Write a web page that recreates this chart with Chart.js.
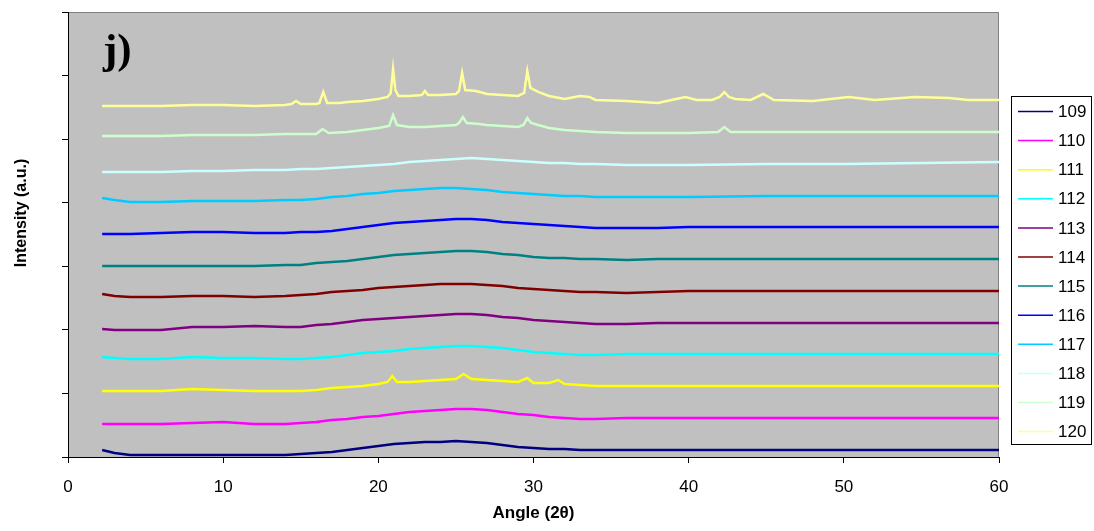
<!DOCTYPE html>
<html>
<head>
<meta charset="utf-8">
<script src="https://cdn.jsdelivr.net/npm/chart.js@4.4.1/dist/chart.umd.min.js"></script>
<style>
  html, body { margin: 0; padding: 0; background: #fff; }
  #wrap { width: 1094px; height: 531px; position: relative; }
</style>
</head>
<body>
<div id="wrap"><canvas id="xrd"></canvas></div>
<script>
// ----------------------
// DATA (intensity in a.u., each pattern already offset)
// ----------------------
const sampleNames = ['109','110','111','112','113','114','115','116','117','118','119','120'];
const sampleColors = ['#000080','#FF00FF','#FFFF00','#00FFFF','#800080','#800000','#008080','#0000FF','#00CCFF','#CCFFFF','#CCFFCC','#FFFF99'];

const xTicks = [0, 10, 20, 30, 40, 50, 60];

const angleGrid = [2.2,3,4,6,8,10,12,14,15,16,17,18,19,20,21,22,23,24,25,26,27,28,29,30,31,32,33,34,36,38,40,45,50,55,60];

const s109 = [0.110,0.063,0.031,0.031,0.031,0.031,0.031,0.031,0.047,0.063,0.079,0.110,0.142,0.173,0.204,0.220,0.236,0.236,0.252,0.236,0.220,0.189,0.157,0.142,0.126,0.126,0.110,0.110,0.110,0.110,0.110,0.110,0.110,0.110,0.110];
const s110 = [0.519,0.519,0.519,0.519,0.535,0.551,0.519,0.519,0.535,0.551,0.582,0.598,0.629,0.645,0.676,0.708,0.724,0.739,0.755,0.755,0.739,0.708,0.676,0.661,0.629,0.613,0.598,0.598,0.613,0.613,0.613,0.613,0.613,0.613,0.613];
const s112 = [1.573,1.557,1.542,1.542,1.573,1.557,1.557,1.542,1.542,1.557,1.573,1.604,1.636,1.652,1.667,1.699,1.715,1.730,1.746,1.746,1.730,1.715,1.683,1.652,1.636,1.620,1.604,1.604,1.620,1.620,1.620,1.620,1.620,1.620,1.620];
const s113 = [2.013,1.998,1.998,1.998,2.045,2.045,2.061,2.045,2.045,2.076,2.092,2.124,2.155,2.171,2.186,2.202,2.218,2.234,2.249,2.249,2.234,2.202,2.186,2.155,2.139,2.124,2.108,2.092,2.092,2.108,2.108,2.108,2.108,2.108,2.108];
const s114 = [2.564,2.533,2.517,2.517,2.533,2.533,2.517,2.533,2.548,2.564,2.595,2.611,2.627,2.658,2.674,2.690,2.706,2.721,2.721,2.721,2.706,2.690,2.658,2.643,2.627,2.611,2.595,2.595,2.580,2.595,2.611,2.611,2.611,2.611,2.611];
const s115 = [3.004,3.004,3.004,3.004,3.004,3.004,3.004,3.020,3.020,3.052,3.067,3.083,3.115,3.146,3.177,3.193,3.209,3.225,3.240,3.240,3.225,3.193,3.177,3.146,3.130,3.130,3.115,3.115,3.099,3.115,3.115,3.115,3.115,3.115,3.115];
const s116 = [3.508,3.508,3.508,3.524,3.539,3.539,3.524,3.524,3.539,3.539,3.555,3.586,3.618,3.649,3.681,3.697,3.712,3.728,3.744,3.744,3.728,3.697,3.681,3.665,3.649,3.634,3.618,3.602,3.602,3.602,3.618,3.618,3.618,3.618,3.618];
const s117 = [4.074,4.043,4.011,4.011,4.027,4.027,4.027,4.043,4.043,4.058,4.090,4.106,4.137,4.153,4.184,4.200,4.216,4.232,4.232,4.216,4.200,4.168,4.153,4.137,4.121,4.106,4.106,4.090,4.090,4.090,4.090,4.106,4.106,4.106,4.106];
const s118 = [4.483,4.483,4.483,4.483,4.499,4.499,4.515,4.515,4.530,4.530,4.546,4.562,4.577,4.593,4.609,4.640,4.656,4.672,4.688,4.703,4.688,4.672,4.656,4.640,4.625,4.625,4.609,4.609,4.593,4.593,4.593,4.609,4.609,4.625,4.640];

const angle111 = [2.2,3,4,6,8,10,12,14,15,16,17,18,19,20,20.6,20.9,21.2,22,23,24,25,25.5,26,27,28,29,29.6,30,31,31.6,32,33,34,36,38,40,45,50,55,60];
const s111 = [1.038,1.038,1.038,1.038,1.070,1.054,1.038,1.038,1.038,1.054,1.085,1.101,1.117,1.148,1.180,1.274,1.180,1.180,1.195,1.211,1.227,1.306,1.227,1.211,1.195,1.180,1.243,1.164,1.164,1.211,1.148,1.133,1.117,1.117,1.117,1.117,1.117,1.117,1.117,1.117];

const angle119 = [2.2,3,4,6,8,10,12,14,15,16,16.4,16.8,18,19,20,20.7,20.95,21.2,22,23,24,25,25.2,25.45,25.7,26.5,27,28,29,29.35,29.6,29.85,30.3,31,32,33,34,36,38,40,41.9,42.3,42.7,45,50,55,60];
const s119 = [5.050,5.050,5.050,5.050,5.065,5.065,5.065,5.081,5.081,5.081,5.159,5.097,5.112,5.144,5.175,5.207,5.380,5.222,5.191,5.191,5.207,5.222,5.254,5.348,5.254,5.238,5.222,5.207,5.191,5.222,5.333,5.254,5.222,5.175,5.144,5.128,5.112,5.097,5.097,5.097,5.112,5.191,5.112,5.112,5.112,5.112,5.112];

const angle120 = [2.2,3,4,6,8,10,12,14,14.4,14.7,15.0,16,16.2,16.45,16.7,17.5,18,19,20,20.6,20.8,20.95,21.1,21.3,22,22.8,23.0,23.2,24,25,25.2,25.4,25.6,26.3,27,28,29,29.4,29.6,29.8,30.3,31,32,33,33.6,34,36,38,39.2,39.8,40.5,41.5,42.0,42.3,42.6,43,44,44.8,45.5,48,50.3,52,54.6,56.8,58,60];
const s120 = [5.521,5.521,5.521,5.521,5.537,5.537,5.521,5.537,5.553,5.600,5.553,5.553,5.569,5.742,5.569,5.569,5.584,5.600,5.632,5.663,5.726,6.104,5.773,5.679,5.679,5.695,5.758,5.695,5.695,5.710,5.758,6.041,5.773,5.758,5.710,5.695,5.679,5.726,6.072,5.805,5.742,5.679,5.632,5.679,5.663,5.616,5.600,5.569,5.632,5.663,5.616,5.616,5.663,5.742,5.663,5.632,5.616,5.710,5.616,5.600,5.663,5.616,5.663,5.648,5.616,5.616];

const seriesAngles = [angleGrid, angleGrid, angle111, angleGrid, angleGrid, angleGrid, angleGrid, angleGrid, angleGrid, angleGrid, angle119, angle120];
const seriesValues = [s109, s110, s111, s112, s113, s114, s115, s116, s117, s118, s119, s120];

// ----------------------
// PLUGINS
// ----------------------
const FONT = 'Arial, "Liberation Sans", sans-serif';

const plotBackground = {
  id: 'plotBackground',
  beforeDraw(chart){
    const {ctx, chartArea:a} = chart;
    ctx.save();
    ctx.fillStyle = '#C0C0C0';
    ctx.fillRect(a.left, a.top, a.right - a.left, a.bottom - a.top);
    ctx.strokeStyle = '#808080';
    ctx.lineWidth = 1;
    ctx.beginPath();
    ctx.moveTo(a.left, a.top + 0.5);
    ctx.lineTo(a.right - 0.5, a.top + 0.5);
    ctx.lineTo(a.right - 0.5, a.bottom);
    ctx.stroke();
    ctx.restore();
  }
};

// panel letter + y axis title (title sits above the axis centre in the original)
const extraText = {
  id: 'extraText',
  afterDraw(chart){
    const ctx = chart.ctx;
    ctx.save();
    ctx.fillStyle = '#000';
    ctx.font = 'bold 43px "Times New Roman", "Liberation Serif", serif';
    ctx.textBaseline = 'alphabetic';
    ctx.fillText('j)', 103, 63);

    ctx.translate(22, 213);
    ctx.rotate(-Math.PI / 2);
    ctx.font = 'bold 16px ' + FONT;
    ctx.textAlign = 'center';
    ctx.textBaseline = 'middle';
    ctx.fillText('Intensity (a.u.)', 0, 0);
    ctx.restore();
  }
};

const boxLegend = {
  id: 'boxLegend',
  afterDraw(chart){
    const ctx = chart.ctx;
    const x0 = 1011, y0 = 96, w = 80, h = 348;
    ctx.save();
    ctx.fillStyle = '#fff';
    ctx.fillRect(x0, y0, w, h);
    ctx.strokeStyle = '#000';
    ctx.lineWidth = 1;
    ctx.strokeRect(x0 + 0.5, y0 + 0.5, w, h);
    ctx.font = '17px ' + FONT;
    ctx.textBaseline = 'middle';
    chart.data.datasets.forEach((ds, i) => {
      const y = 111.5 + i * 29.1;
      ctx.strokeStyle = ds.borderColor;
      ctx.lineWidth = 1.5;
      ctx.beginPath();
      ctx.moveTo(1018, y);
      ctx.lineTo(1053, y);
      ctx.stroke();
      ctx.fillStyle = '#000';
      ctx.fillText(ds.label, 1058, y + 1);
    });
    ctx.restore();
  }
};

// ----------------------
// CHART
// ----------------------
const datasets = sampleNames.map((name, i) => ({
  label: name,
  data: seriesAngles[i].map((a, k) => ({ x: a, y: seriesValues[i][k] })),
  borderColor: sampleColors[i],
  backgroundColor: sampleColors[i],
  borderWidth: 2.5,
  pointRadius: 0,
  tension: 0,
  fill: false
}));

new Chart(document.getElementById('xrd').getContext('2d'), {
  type: 'line',
  data: { datasets },
  options: {
    responsive: true,
    maintainAspectRatio: false,
    animation: false,
    layout: { padding: { left: 0, right: 95, top: 12, bottom: 0 } },
    plugins: {
      legend: { display: false },
      tooltip: { enabled: false }
    },
    scales: {
      x: {
        type: 'linear',
        min: 0, max: 60,
        afterBuildTicks: s => { s.ticks = xTicks.map(v => ({ value: v })); },
        afterFit: s => { s.height = 74; },
        ticks: { color: '#000', font: { family: FONT, size: 17 }, padding: 14, maxRotation: 0 },
        grid: { drawOnChartArea: false, tickLength: 6, color: '#000' },
        border: { color: '#000', width: 1 },
        title: { display: true, text: 'Angle (2θ)', color: '#000', font: { family: FONT, size: 17, weight: 'bold' }, padding: { top: 0, bottom: 7 } }
      },
      y: {
        min: 0, max: 7,
        ticks: { stepSize: 1, display: false },
        afterFit: s => { s.width = 68; },
        grid: { drawOnChartArea: false, tickLength: 6, color: '#000' },
        border: { color: '#000', width: 1 },
        title: { display: false }
      }
    }
  },
  plugins: [plotBackground, extraText, boxLegend]
});
</script>
</body>
</html>
